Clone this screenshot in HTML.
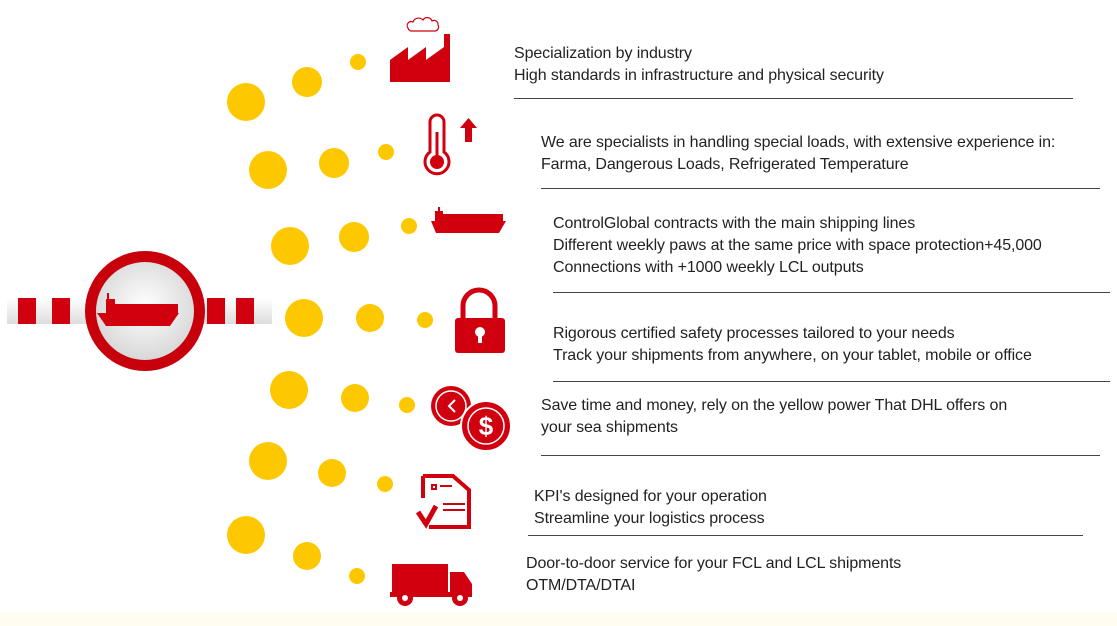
<!DOCTYPE html><html><head><style>
body{margin:0;width:1117px;height:626px;background:#fff;position:relative;overflow:hidden;font-family:"Liberation Sans",Arial,sans-serif;}
.t{position:absolute;font-size:16px;color:#222;line-height:22px;white-space:nowrap;letter-spacing:-0.1px}
.l{position:absolute;height:1px;background:#444}
</style></head><body>
<svg width="1117" height="626" style="position:absolute;left:0;top:0">
<defs><radialGradient id="g" cx="50%" cy="45%" r="55%"><stop offset="0" stop-color="#fff"/><stop offset="1" stop-color="#d8d8d8"/></radialGradient>
<linearGradient id="bar" x1="0" y1="0" x2="0" y2="1"><stop offset="0" stop-color="#fff"/><stop offset="1" stop-color="#ddd"/></linearGradient></defs>
<g fill="#fdc800">
<circle cx="246" cy="102" r="19"/><circle cx="307" cy="82" r="15"/><circle cx="358" cy="62" r="8"/>
<circle cx="268" cy="170" r="19"/><circle cx="334" cy="163" r="15"/><circle cx="386" cy="152" r="8"/>
<circle cx="290" cy="246" r="19"/><circle cx="354" cy="237" r="15"/><circle cx="409" cy="226" r="8"/>
<circle cx="304" cy="318" r="19"/><circle cx="370" cy="318" r="14"/><circle cx="425" cy="320" r="8"/>
<circle cx="289" cy="390" r="19"/><circle cx="355" cy="398" r="14"/><circle cx="407" cy="405" r="8"/>
<circle cx="268" cy="461" r="19"/><circle cx="332" cy="473" r="14"/><circle cx="385" cy="484" r="8"/>
<circle cx="246" cy="535" r="19"/><circle cx="307" cy="556" r="14"/><circle cx="357" cy="576" r="8"/>
</g>
<rect x="7" y="298" width="265" height="26" fill="url(#bar)"/>
<g fill="#d0000f"><rect x="18" y="298" width="18" height="26"/><rect x="52" y="298" width="18" height="26"/><rect x="207" y="298" width="18" height="26"/><rect x="236" y="298" width="18" height="26"/></g>
<circle cx="145" cy="311" r="60" fill="#c8000c"/>
<circle cx="145" cy="311" r="49" fill="url(#g)"/>
<g fill="#d0000f"><path d="M97 313h82l-9 13h-64z"/><rect x="115" y="304" width="63" height="9"/><rect x="106" y="299" width="9" height="14"/><rect x="107" y="293" width="2" height="7"/></g>
<!-- factory -->
<g fill="#d0000f"><path d="M390 82v-22l18-13v13l18-13v13l18-13v-13h6v48z"/></g>
<path d="M408 28a4 4 0 0 1 5-6a6 6 0 0 1 10-2a5 5 0 0 1 9 1a4 4 0 0 1 6 4a4 4 0 0 1-3 6h-24a4 4 0 0 1-3-3z" fill="none" stroke="#d0000f" stroke-width="1.2"/>
<!-- thermometer -->
<g stroke="#d0000f" fill="none" stroke-width="3"><path d="M430 152v-30a7 7 0 0 1 14 0v30a12 12 0 1 1-14 0z"/></g>
<circle cx="437" cy="162" r="7" fill="#d0000f"/><rect x="435.5" y="132" width="3" height="30" fill="#d0000f"/>
<path d="M460 128h5v14h7v-14h5l-8.5-10z" fill="#d0000f"/>
<!-- ship -->
<g fill="#d0000f"><path d="M431 221h75l-7 12h-63z"/><rect x="443" y="214" width="60" height="7"/><rect x="435" y="211" width="8" height="10"/><rect x="438" y="207" width="2" height="5"/></g>
<!-- lock -->
<path d="M463 318v-12a16 16 0 0 1 32 0v12" fill="none" stroke="#d0000f" stroke-width="5"/>
<rect x="455" y="318" width="50" height="35" rx="3" fill="#d0000f"/>
<circle cx="480" cy="332" r="5" fill="#fff"/><rect x="478" y="333" width="4" height="10" fill="#fff"/>
<!-- clock & dollar -->
<circle cx="451" cy="406" r="20" fill="#d0000f"/><circle cx="451" cy="406" r="15" fill="none" stroke="#fff" stroke-width="1.5"/>
<path d="M455 400l-6 6 6 6" stroke="#fff" stroke-width="2" fill="none"/>
<circle cx="486" cy="426" r="25" fill="#d0000f" stroke="#fff" stroke-width="2"/><circle cx="486" cy="426" r="18" fill="none" stroke="#fff" stroke-width="1.5"/>
<text x="486" y="435" font-size="26" font-weight="bold" fill="#fff" text-anchor="middle" font-family="Liberation Sans">$</text>
<!-- doc -->
<path d="M423 476h30l16 14v37h-40" fill="none" stroke="#d0000f" stroke-width="4"/>
<path d="M423 476v22" stroke="#d0000f" stroke-width="4"/>
<path d="M418 512l8 12 10-18" fill="none" stroke="#d0000f" stroke-width="5"/>
<g stroke="#d0000f" stroke-width="2"><line x1="443" y1="504" x2="465" y2="504"/><line x1="443" y1="510" x2="465" y2="510"/><rect x="432" y="485" width="4" height="4" fill="none"/><line x1="440" y1="486" x2="452" y2="486"/></g>
<!-- truck -->
<g fill="#d0000f"><rect x="392" y="564" width="56" height="30"/><path d="M450 572h14l8 12v12h-22z"/><rect x="390" y="592" width="82" height="5"/>
<circle cx="405" cy="598" r="8"/><circle cx="460" cy="598" r="8"/></g>
<circle cx="405" cy="598" r="3" fill="#fff"/><circle cx="460" cy="598" r="3" fill="#fff"/>
<rect x="0" y="612" width="1117" height="14" fill="#fffdf0"/>
</svg>
<div class="t" style="left:514px;top:43px">Specialization by industry<br>High standards in infrastructure and physical security</div>
<div class="l" style="left:514px;top:98px;width:559px"></div>
<div class="t" style="left:541px;top:132px">We are specialists in handling special loads, with extensive experience in:<br>Farma, Dangerous Loads, Refrigerated Temperature</div>
<div class="l" style="left:541px;top:188px;width:559px"></div>
<div class="t" style="left:553px;top:213px">ControlGlobal contracts with the main shipping lines<br>Different weekly paws at the same price with space protection+45,000<br>Connections with +1000 weekly LCL outputs</div>
<div class="l" style="left:553px;top:292px;width:557px"></div>
<div class="t" style="left:553px;top:323px">Rigorous certified safety processes tailored to your needs<br>Track your shipments from anywhere, on your tablet, mobile or office</div>
<div class="l" style="left:553px;top:381px;width:557px"></div>
<div class="t" style="left:541px;top:395px">Save time and money, rely on the yellow power That DHL offers on<br>your sea shipments</div>
<div class="l" style="left:541px;top:455px;width:559px"></div>
<div class="t" style="left:534px;top:486px">KPI's designed for your operation<br>Streamline your logistics process</div>
<div class="l" style="left:528px;top:535px;width:555px"></div>
<div class="t" style="left:526px;top:553px">Door-to-door service for your FCL and LCL shipments<br>OTM/DTA/DTAI</div>
</body></html>
